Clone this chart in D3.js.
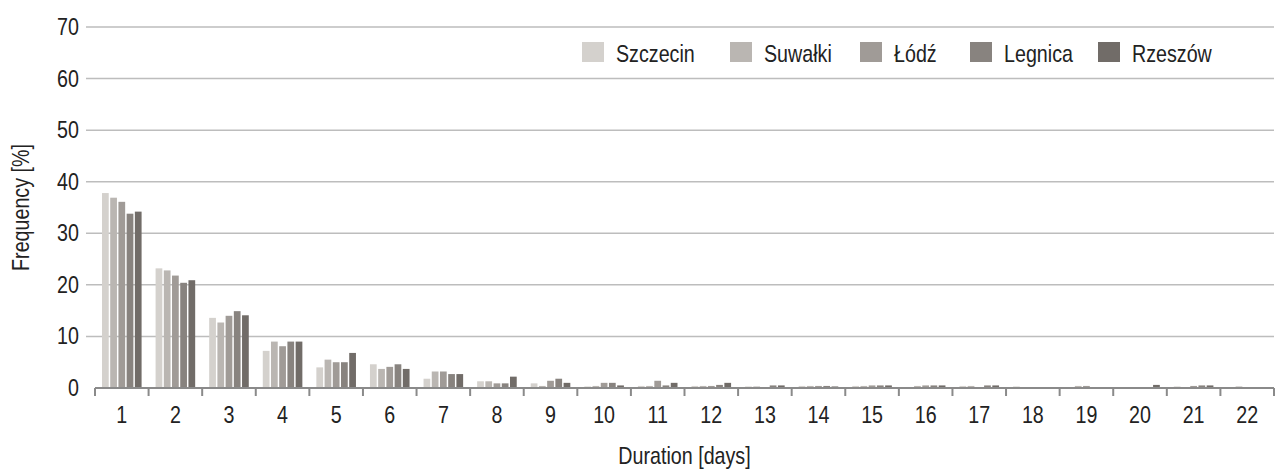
<!DOCTYPE html>
<html>
<head>
<meta charset="utf-8">
<script src="https://cdn.jsdelivr.net/npm/d3@7"></script>
<style>
  body { margin: 0; background: #fff; }
  text { font-family: "Liberation Sans", Arial, sans-serif; fill: #222; }
</style>
</head>
<body>
<div id="chart"></div>
<script>
(function() {

  var width = 1277;
  var height = 470;

  // data
  var days = ["1","2","3","4","5","6","7","8","9","10","11","12","13","14","15","16","17","18","19","20","21","22"];
  var cities = ["Szczecin", "Suwałki", "Łódź", "Legnica", "Rzeszów"];
  var szczecin = [37.8, 23.2, 13.6, 7.2, 4.0, 4.6, 1.8, 1.3, 0.9, 0.3, 0.4, 0.4, 0.3, 0.4, 0.4, 0.2, 0.4, 0.3, 0, 0, 0.3, 0];
  var suwalki  = [36.9, 22.8, 12.7, 9.0, 5.5, 3.7, 3.2, 1.3, 0.4, 0.4, 0.4, 0.4, 0.3, 0.4, 0.4, 0.4, 0.4, 0, 0.4, 0, 0, 0.3];
  var lodz     = [36.1, 21.8, 14.0, 8.1, 5.0, 4.1, 3.2, 0.9, 1.4, 1.0, 1.4, 0.4, 0, 0.4, 0.5, 0.5, 0, 0, 0.4, 0, 0.4, 0];
  var legnica  = [33.8, 20.4, 14.9, 9.0, 5.0, 4.6, 2.7, 0.9, 1.8, 1.0, 0.5, 0.6, 0.5, 0.4, 0.5, 0.5, 0.5, 0, 0, 0, 0.5, 0];
  var rzeszow  = [34.2, 20.9, 14.1, 9.0, 6.8, 3.7, 2.7, 2.2, 1.0, 0.5, 1.0, 1.0, 0.5, 0.3, 0.5, 0.5, 0.5, 0, 0, 0.6, 0.5, 0];
  var yTicks = [0, 10, 20, 30, 40, 50, 60, 70];

  var series = [szczecin, suwalki, lodz, legnica, rzeszow];
  var colors = ["#d4d1cd", "#bab6b2", "#a09b97", "#88837f", "#716c68"];

  // the original font is a narrow one, squeeze Liberation Sans to match
  var squeeze = 0.82;

  var rows = days.map(function(d, i) {
    return cities.map(function(c, j) {
      return { day: d, city: c, value: series[j][i] };
    });
  });

  var svg = d3.select("#chart")
    .append("svg")
    .attr("width", width)
    .attr("height", height);

  var left = 95, right = 1274, top = 27, bottom = 388;

  var x0 = d3.scaleBand().domain(days).range([left, right]).padding(0);
  var x1 = d3.scaleBand().domain(cities)
    .range([7, x0.bandwidth() - 7])
    .paddingInner(0.18);
  var y = d3.scaleLinear().domain([0, 70]).range([bottom, top]);
  var color = d3.scaleOrdinal().domain(cities).range(colors);

  // gridlines
  svg.append("g")
    .selectAll("line")
    .data(yTicks.slice(1))
    .enter().append("line")
    .attr("x1", 86)
    .attr("x2", right)
    .attr("y1", function(d) { return y(d); })
    .attr("y2", function(d) { return y(d); })
    .attr("stroke", "#bdbdbd")
    .attr("stroke-width", 1.5);

  // y labels
  svg.append("g")
    .selectAll("text")
    .data(yTicks)
    .enter().append("text")
    .attr("transform", function(d) { return "translate(79," + (y(d) + 8) + ") scale(" + squeeze + ",1)"; })
    .attr("text-anchor", "end")
    .attr("font-size", 24)
    .text(function(d) { return d; });

  // bars
  svg.append("g")
    .selectAll("g")
    .data(rows)
    .enter().append("g")
    .attr("transform", function(d) { return "translate(" + x0(d[0].day) + ",0)"; })
    .selectAll("rect")
    .data(function(d) { return d; })
    .enter().append("rect")
    .attr("x", function(d) { return x1(d.city); })
    .attr("width", x1.bandwidth())
    .attr("y", function(d) { return y(d.value); })
    .attr("height", function(d) { return bottom - y(d.value); })
    .attr("fill", function(d) { return color(d.city); });

  // x axis
  var xAxis = svg.append("g")
    .attr("transform", "translate(0," + bottom + ")");

  xAxis.append("line")
    .attr("x1", left).attr("x2", right)
    .attr("stroke", "#8a8a8a")
    .attr("stroke-width", 2);

  xAxis.selectAll(".tick")
    .data(days.concat(["end"]))
    .enter().append("line")
    .attr("class", "tick")
    .attr("x1", function(d, i) { return i < days.length ? x0(d) : right; })
    .attr("x2", function(d, i) { return i < days.length ? x0(d) : right; })
    .attr("y1", 0).attr("y2", 8)
    .attr("stroke", "#8a8a8a")
    .attr("stroke-width", 2);

  xAxis.selectAll(".lbl")
    .data(days)
    .enter().append("text")
    .attr("class", "lbl")
    .attr("transform", function(d) { return "translate(" + (x0(d) + x0.bandwidth() / 2) + ",35) scale(" + squeeze + ",1)"; })
    .attr("text-anchor", "middle")
    .attr("font-size", 24)
    .text(function(d) { return d; });

  // axis titles
  svg.append("text")
    .attr("transform", "translate(" + (left + right) / 2 + ",464) scale(" + squeeze + ",1)")
    .attr("text-anchor", "middle")
    .attr("font-size", 24)
    .text("Duration [days]");

  svg.append("text")
    .attr("transform", "translate(29," + (top + bottom) / 2 + ") rotate(-90) scale(" + squeeze + ",1)")
    .attr("text-anchor", "middle")
    .attr("font-size", 24)
    .text("Frequency [%]");

  // legend
  var legX = [582, 730, 860, 970, 1098];
  var legend = svg.append("g")
    .selectAll("g")
    .data(cities)
    .enter().append("g")
    .attr("transform", function(d, i) { return "translate(" + legX[i] + ",42)"; });

  legend.append("rect")
    .attr("width", 22)
    .attr("height", 20)
    .attr("fill", function(d) { return color(d); });

  legend.append("text")
    .attr("transform", "translate(34,20) scale(" + squeeze + ",1)")
    .attr("font-size", 24)
    .text(function(d) { return d; });

})();
</script>
</body>
</html>
